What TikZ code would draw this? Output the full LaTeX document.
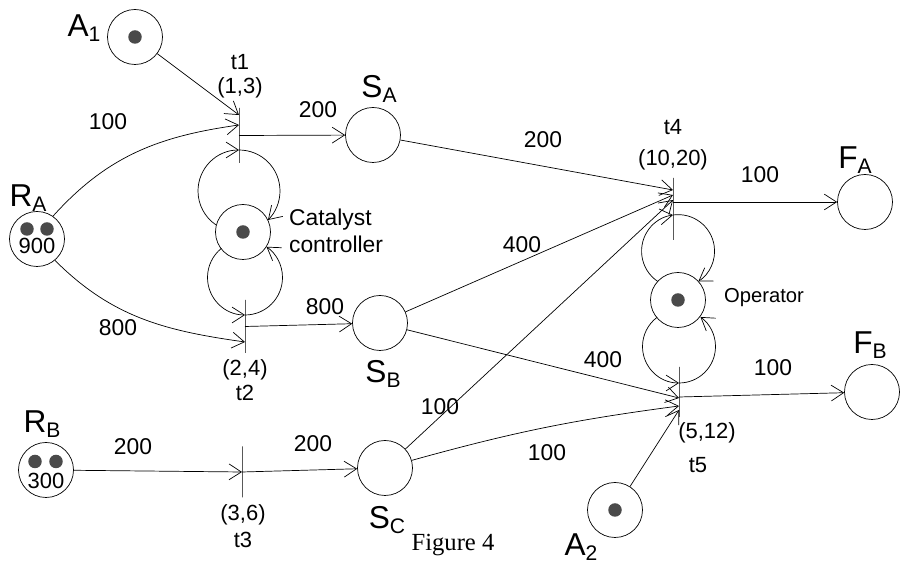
\documentclass[tikz,border=0pt]{standalone}
\usepackage{fontspec}
\setmainfont{Liberation Sans}
\newfontfamily\capfont{Liberation Serif}
\usepackage{tikz}
\usetikzlibrary{arrows.meta,calc}
\definecolor{bk80}{HTML}{4A4A4A}
\newcommand{\pname}[2]{#1\raisebox{-0.3ex}{\fontsize{12}{12}\selectfont #2}}
\tikzset{
  place/.style={circle, draw, thin, minimum size=1.1cm, inner sep=0pt},
  trans/.style={rectangle, draw, thin, minimum width=0pt,
    minimum height=#1, inner sep=0pt},
  trans/.default=1.05cm,
  token/.style={circle, fill=bk80, minimum size=0.27cm, inner sep=0pt},
  flow/.style={-{Straight Barb[length=7pt,width=9pt]}, thin},
  flowin/.style={{Straight Barb[length=7pt,width=9pt]}-, thin},
  weight/.style={font=\fontsize{13}{15}\selectfont, inner sep=1pt},
  tlabel/.style={font=\fontsize{12.5}{15}\selectfont, inner sep=1pt},
  plabel/.style={font=\fontsize{18}{20}\selectfont, inner sep=0pt},
  side/.style={font=\fontsize{13}{15}\selectfont, align=left, anchor=west,
    inner sep=1pt},
}

\begin{document}
\begin{tikzpicture}
  \useasboundingbox (0,0) rectangle (18,11.26);
  % places
  \node[place] (A1) at (2.70,10.52) {};
  \node[place] (SA) at (7.46,8.56) {};
  \node[place] (RA) at (0.74,6.48) {};
  \node[place] (cat) at (4.86,6.62) {};
  \node[place] (SB) at (7.60,4.80) {};
  \node[place] (RB) at (0.92,1.86) {};
  \node[place] (SC) at (7.70,1.90) {};
  \node[place] (FA) at (17.30,7.22) {};
  \node[place] (op) at (13.56,5.26) {};
  \node[place] (FB) at (17.44,3.42) {};
  \node[place] (A2) at (12.30,1.06) {};
  % tokens
  \node[token] (A1tok) at (A1.center) {};
  \node[token] (cattok) at (cat.center) {};
  \node[token] (optok) at (op.center) {};
  \node[token] (A2tok) at (A2.center) {};
  \node[token] (RAtok1) at ([shift={(-0.2,0.2)}]RA.center) {};
  \node[token] (RAtok2) at ([shift={(0.2,0.2)}]RA.center) {};
  \node[tlabel, inner sep=0pt] (RAnum) at ([yshift=-0.13cm]RA.center) {900};
  \node[token] (RBtok1) at ([shift={(-0.22,0.17)}]RB.center) {};
  \node[token] (RBtok2) at ([shift={(0.2,0.17)}]RB.center) {};
  \node[tlabel, inner sep=0pt] (RBnum) at ([yshift=-0.22cm]RB.center) {300};
  % transitions
  \node[trans=1.1cm] (t1) at (4.78,8.55) {};
  \node[trans=1.06cm] (t2) at (4.90,4.73) {};
  \node[trans=1.02cm] (t3) at (4.84,1.82) {};
  \node[trans=1.24cm] (t4) at (13.46,7.08) {};
  \node[trans=1.0cm] (t5) at (13.58,3.42) {};

  % names
  \node[plabel] (A1lab) at (1.68,10.70) {\pname{A}{1}};
  \node[plabel] (SAlab) at (7.58,9.48) {\pname{S}{A}};
  \node[plabel] (RAlab) at (0.56,7.30) {\pname{R}{A}};
  \node[plabel] (SBlab) at (7.66,3.78) {\pname{S}{B}};
  \node[plabel] (RBlab) at (0.84,2.78) {\pname{R}{B}};
  \node[plabel] (SClab) at (7.74,0.86) {\pname{S}{C}};
  \node[plabel] (FAlab) at (17.10,8.06) {\pname{F}{A}};
  \node[plabel] (FBlab) at (17.40,4.36) {\pname{F}{B}};
  \node[plabel] (A2lab) at (11.62,0.32) {\pname{A}{2}};
  \node[side] (catlab) at (5.74,6.64) {Catalyst\\controller};
  \node[side, font=\fontsize{11.5}{14}\selectfont] (oplab) at (14.44,5.30) {Operator};

  % transition labels
  \node[tlabel] (t1name) at (4.80,10.02) {t1};
  \node[tlabel] (t1time) at (4.80,9.50) {(1,3)};
  \node[tlabel] (t2time) at (4.90,3.86) {(2,4)};
  \node[tlabel] (t2name) at (4.90,3.40) {t2};
  \node[tlabel] (t3time) at (4.86,0.96) {(3,6)};
  \node[tlabel] (t3name) at (4.86,0.46) {t3};
  \node[tlabel] (t4name) at (13.46,8.72) {t4};
  \node[tlabel] (t4time) at (13.46,8.06) {(10,20)};
  \node[tlabel] (t5time) at (14.14,2.60) {(5,12)};
  \node[tlabel] (t5name) at (13.96,1.96) {t5};

  % arcs into and out of t1, t2, t3
  \draw[flow] (A1) -- ([yshift=0.41cm]t1.center);
  \draw[flow] (RA.55) to[out=48, in=188] ([yshift=0.21cm]t1.center);
  \draw[flow] (t1.center) -- (SA);
  \draw[flow] (RA.-50) to[out=-45, in=172] ([yshift=-0.31cm]t2.center);
  \draw[flow] (t2.center) -- (SB);
  \draw[flow] (RB) -- (t3.center);
  \draw[flow] (t3.center) -- (SC);
  % catalyst loops
  \draw[flowin] ([yshift=-0.29cm]t1.center) arc[start angle=90, end angle=235.5, radius=0.82cm];
  \draw[flow] ([yshift=-0.29cm]t1.center) arc[start angle=90, end angle=-45, radius=0.82cm];
  \draw[flowin] ([yshift=0.23cm]t2.center) arc[start angle=270, end angle=129, radius=0.75cm];
  \draw[flow] ([yshift=0.23cm]t2.center) arc[start angle=-90, end angle=55, radius=0.75cm];

  % arcs into and out of t4, t5
  \draw[flow] (SA) -- ([yshift=0.38cm]t4.center);
  \draw[flow] (SB) -- ([yshift=0.28cm]t4.center);
  \draw[flow] (SC) -- ([yshift=0.18cm]t4.center);
  \draw[flow] ([yshift=0.14cm]t4.center) -- (FA);
  \draw[flow] (SB) -- ([yshift=-0.12cm]t5.center);
  \draw[flow] (SC) to[bend left=4] ([yshift=-0.28cm]t5.center);
  \draw[flow] (A2) -- ([yshift=-0.36cm]t5.center);
  \draw[flow] ([yshift=-0.10cm]t5.center) -- (FB);
  % operator loops
  \draw[flowin] ([yshift=-0.12cm]t4.center) arc[start angle=98, end angle=236.3, radius=0.73cm];
  \draw[flow] ([yshift=-0.12cm]t4.center) arc[start angle=98, end angle=-56.3, radius=0.73cm];
  \draw[flowin] ([yshift=0.18cm]t5.center) arc[start angle=270, end angle=127, radius=0.73cm];
  \draw[flow] ([yshift=0.18cm]t5.center) arc[start angle=-90, end angle=54, radius=0.73cm];

  % weights
  \node[weight] (w1) at (2.16,8.82) {100};
  \node[weight] (w2) at (6.36,9.06) {200};
  \node[weight] (w3) at (2.36,4.70) {800};
  \node[weight] (w4) at (6.50,5.12) {800};
  \node[weight] (w5) at (2.66,2.32) {200};
  \node[weight] (w6) at (6.26,2.38) {200};
  \node[weight] (w7) at (10.86,8.46) {200};
  \node[weight] (w8) at (15.20,7.76) {100};
  \node[weight] (w9) at (10.44,6.36) {400};
  \node[weight] (w10) at (12.06,4.06) {400};
  \node[weight] (w11) at (8.80,3.12) {100};
  \node[weight] (w12) at (10.94,2.20) {100};
  \node[weight] (w13) at (15.46,3.90) {100};

  \node[font=\capfont\fontsize{14}{16}\selectfont] (cap) at (9.06,0.36) {Figure 4};
\end{tikzpicture}
\end{document}
